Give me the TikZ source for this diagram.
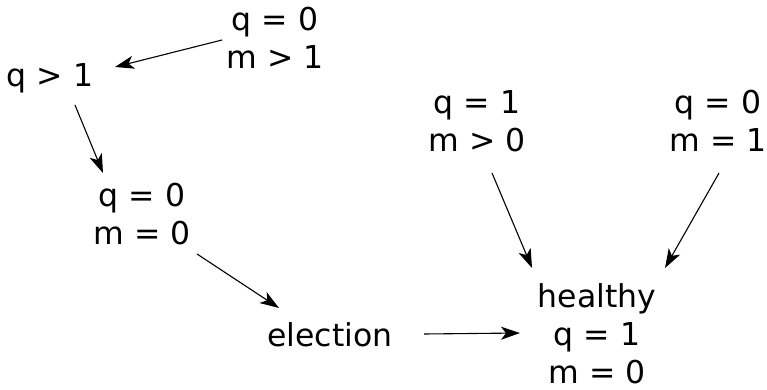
\documentclass[tikz,border=0pt]{standalone}
\usepackage{fontspec}
\setmainfont{DejaVu Sans}
\usetikzlibrary{arrows.meta}
\begin{document}
\begin{tikzpicture}[x=1pt,y=1pt,
  st/.style={align=center,inner sep=0pt,font=\fontsize{31.5}{38}\selectfont},
  arr/.style={-{Stealth[length=19pt,width=13pt,inset=5pt]},line width=1.1pt}]
\useasboundingbox (0,0) rectangle (767,-390);
\node[st] (a) at (275,-38) {q = 0\\m > 1};
\node[st] (b) at (50,-78) {q > 1};
\node[st] (c) at (142,-214) {q = 0\\m = 0};
\node[st] (d) at (330,-335) {election};
\node[st] (e) at (477,-121) {q = 1\\m > 0};
\node[st] (f) at (718,-121) {q = 0\\m = 1};
\node[st] (g) at (597,-334) {healthy\\q = 1\\m = 0};
\draw[arr] ([shift={(-53,-2)}]a.center) -- ([shift={(65,11)}]b.center);
\draw[arr] ([shift={(25,-27)}]b.center) -- ([shift={(-39,41)}]c.center);
\draw[arr] ([shift={(55,-40)}]c.center) -- ([shift={(-51,27)}]d.center);
\draw[arr] ([shift={(94,1)}]d.center) -- ([shift={(-77,1)}]g.center);
\draw[arr] ([shift={(15,-52)}]e.center) -- ([shift={(-65,66)}]g.center);
\draw[arr] ([shift={(1,-52)}]f.center) -- ([shift={(68,66)}]g.center);
\end{tikzpicture}
\end{document}
